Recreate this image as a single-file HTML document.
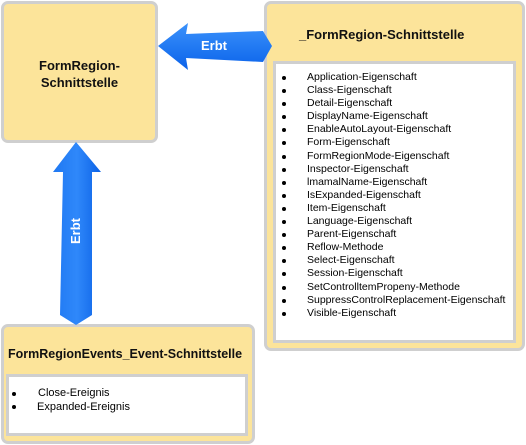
<!DOCTYPE html>
<html><head><style>
body{margin:0;width:526px;height:445px;background:#fff;position:relative;overflow:hidden;font-family:"Liberation Sans",Arial,sans-serif;}
.box{position:absolute;background:#fce49a;border:3px solid #cfcfcf;border-radius:7px;box-sizing:border-box;}
.inner{position:absolute;background:#fff;border:3px solid #cfcfcf;box-sizing:border-box;}
.t{position:absolute;font-weight:bold;font-size:12.5px;color:#111;}
ul{margin:0;padding:0;list-style:none;}
li{font-size:10.5px;line-height:13.1px;color:#000;position:relative;padding-left:28px;white-space:nowrap;}
li:before{content:"";position:absolute;left:3px;top:5px;width:4px;height:4px;border-radius:50%;background:#000;}
</style></head><body>
<div class="box" style="left:1px;top:1px;width:157px;height:142px;"></div>
<div class="t" style="left:1px;top:57px;width:157px;text-align:center;line-height:17px;font-size:13px;">FormRegion-<br>Schnittstelle</div>

<div class="box" style="left:264px;top:1px;width:261px;height:350px;"></div>
<div class="t" style="left:299px;top:27px;font-size:13px;">_FormRegion-Schnittstelle</div>
<div class="inner" style="left:273px;top:61px;width:243px;height:282px;padding-top:7px;padding-left:3px;">
<ul>
<li>Application-Eigenschaft</li><li>Class-Eigenschaft</li><li>Detail-Eigenschaft</li><li>DisplayName-Eigenschaft</li><li>EnableAutoLayout-Eigenschaft</li><li>Form-Eigenschaft</li><li>FormRegionMode-Eigenschaft</li><li>Inspector-Eigenschaft</li><li>lmamalName-Eigenschaft</li><li>IsExpanded-Eigenschaft</li><li>Item-Eigenschaft</li><li>Language-Eigenschaft</li><li>Parent-Eigenschaft</li><li>Reflow-Methode</li><li>Select-Eigenschaft</li><li>Session-Eigenschaft</li><li>SetControlltemPropeny-Methode</li><li>SuppressControlReplacement-Eigenschaft</li><li>Visible-Eigenschaft</li>
</ul></div>

<div class="box" style="left:1px;top:324px;width:254px;height:120px;"></div>
<div class="t" style="left:8px;top:347px;">FormRegionEvents_Event-Schnittstelle</div>
<div class="inner" style="left:6px;top:374px;width:242px;height:62px;padding-top:10px;">
<ul><li style="padding-left:29px;font-size:11px;">Close-Ereignis</li><li style="padding-left:28px;line-height:15px;font-size:11px;">Expanded-Ereignis</li></ul></div>

<svg width="526" height="445" style="position:absolute;left:0;top:0;">
<defs>
<linearGradient id="gh" x1="0" y1="0" x2="0" y2="1"><stop offset="0" stop-color="#3b92fb"/><stop offset="1" stop-color="#0a62ea"/></linearGradient>
<linearGradient id="gv" x1="0" y1="0" x2="1" y2="0"><stop offset="0" stop-color="#1f78f2"/><stop offset="0.5" stop-color="#2f88fa"/><stop offset="1" stop-color="#0c62e6"/></linearGradient>
</defs>
<polygon points="158,46 188,23 186,34 263,31 272,46 263,62 186,58 188,70" fill="url(#gh)"/>
<text x="214" y="50" font-family="'Liberation Sans',sans-serif" font-weight="bold" font-size="13" fill="#fff" text-anchor="middle">Erbt</text>
<polygon points="76,142 101,172 92,172 92,315 76,325 60,315 63,172 53,172" fill="url(#gv)"/>
<text transform="translate(80,231) rotate(-90)" font-family="'Liberation Sans',sans-serif" font-weight="bold" font-size="13" fill="#fff" text-anchor="middle">Erbt</text>
</svg>
</body></html>
